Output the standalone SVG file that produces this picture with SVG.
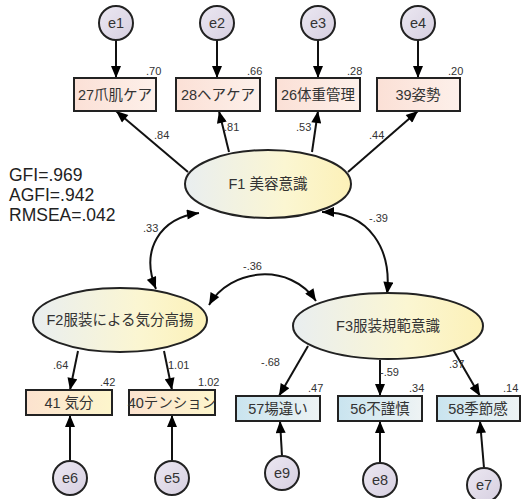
<svg xmlns="http://www.w3.org/2000/svg" width="521" height="499" viewBox="0 0 521 499">
<defs>
<linearGradient id="gE" x1="0" y1="0" x2="1" y2="1"><stop offset="0" stop-color="#ece8f2"/><stop offset="1" stop-color="#d6cfe0"/></linearGradient>
<linearGradient id="gTop" x1="0" y1="0" x2="1" y2="0"><stop offset="0" stop-color="#fbe0d6"/><stop offset="1" stop-color="#fdf0ea"/></linearGradient>
<linearGradient id="gYel" x1="0" y1="0" x2="1" y2="0"><stop offset="0" stop-color="#fce2cf"/><stop offset="1" stop-color="#fdf6cc"/></linearGradient>
<linearGradient id="gBlu" x1="0" y1="0" x2="1" y2="0"><stop offset="0" stop-color="#c9e4ef"/><stop offset="1" stop-color="#eef3f4"/></linearGradient>
<linearGradient id="gF" x1="0" y1="0" x2="1" y2="0"><stop offset="0" stop-color="#e9eef0"/><stop offset="0.6" stop-color="#fbf6d2"/><stop offset="1" stop-color="#fcf1b8"/></linearGradient>
<marker id="ah" viewBox="0 0 12 10" refX="12" refY="5" markerWidth="13" markerHeight="10" markerUnits="userSpaceOnUse" orient="auto-start-reverse"><path d="M0,0 L12,5 L0,10 Z" fill="#000"/></marker>
</defs>
<style>
.e{stroke:#222;stroke-width:2;fill:url(#gE)}
.b{stroke:#222;stroke-width:2}
.f{stroke:#222;stroke-width:2;fill:url(#gF)}
.t{font-family:"Liberation Sans","Noto Sans CJK JP",sans-serif;font-size:14.5px;fill:#333;text-anchor:middle;dominant-baseline:central}
.c{stroke:#111;stroke-width:2;fill:none;marker-end:url(#ah)}
.cv{stroke:#111;stroke-width:2;fill:none;marker-end:url(#ah);marker-start:url(#ah)}
.n{font-family:"Liberation Sans",sans-serif;font-size:11px;fill:#333}
.fit{font-family:"Liberation Sans",sans-serif;font-size:17.5px;fill:#222}
</style>
<rect width="521" height="499" fill="#fff"/>
<g id="connectors">
<line class="c" x1="116" y1="40" x2="116" y2="78"/>
<line class="c" x1="217" y1="40" x2="217" y2="78"/>
<line class="c" x1="318" y1="40" x2="318" y2="78"/>
<line class="c" x1="418" y1="40" x2="418" y2="78"/>
<line class="c" x1="188" y1="172" x2="116" y2="111"/>
<line class="c" x1="229" y1="152" x2="219" y2="111"/>
<line class="c" x1="312" y1="152" x2="318" y2="111"/>
<line class="c" x1="348" y1="172" x2="418" y2="111"/>
<path class="cv" d="M 156,289 C 140,250 160,218 199,213"/>
<path class="cv" d="M 387,294 C 392,250 370,212 322,212"/>
<path class="cv" d="M 209,305 C 230,268 290,262 316,301"/>
<line class="c" x1="78" y1="351" x2="70" y2="390"/>
<line class="c" x1="164" y1="351" x2="172" y2="390"/>
<line class="c" x1="308" y1="346" x2="279" y2="396"/>
<line class="c" x1="380" y1="360" x2="380" y2="396"/>
<line class="c" x1="451" y1="346" x2="480" y2="396"/>
<line class="c" x1="70" y1="461" x2="70" y2="415"/>
<line class="c" x1="172" y1="461" x2="172" y2="415"/>
<line class="c" x1="282" y1="456" x2="280" y2="421"/>
<line class="c" x1="380" y1="463" x2="380" y2="421"/>
<line class="c" x1="484" y1="468" x2="480" y2="421"/>
</g>
<g id="e1"><circle class="e" cx="116" cy="23" r="17"/><text class="t" x="116" y="23">e1</text></g>
<g id="e2"><circle class="e" cx="217" cy="23" r="17"/><text class="t" x="217" y="23">e2</text></g>
<g id="e3"><circle class="e" cx="318" cy="23" r="17"/><text class="t" x="318" y="23">e3</text></g>
<g id="e4"><circle class="e" cx="418" cy="23" r="17"/><text class="t" x="418" y="23">e4</text></g>
<g id="v27"><rect class="b" x="74" y="78" width="82" height="33" fill="url(#gTop)"/><text class="t" x="115" y="95">27爪肌ケア</text><text class="n" x="146" y="75">.70</text></g>
<g id="v28"><rect class="b" x="176" y="78" width="84" height="33" fill="url(#gTop)"/><text class="t" x="218" y="95">28ヘアケア</text><text class="n" x="247" y="75">.66</text></g>
<g id="v26"><rect class="b" x="276" y="78" width="84" height="33" fill="url(#gTop)"/><text class="t" x="318" y="95">26体重管理</text><text class="n" x="347" y="75">.28</text></g>
<g id="v39"><rect class="b" x="377" y="78" width="83" height="33" fill="url(#gTop)"/><text class="t" x="418" y="95">39姿勢</text><text class="n" x="448" y="75">.20</text></g>
<g id="F1"><ellipse class="f" cx="268" cy="184" rx="83" ry="34"/><text class="t" x="268" y="184">F1 美容意識</text></g>
<g id="fit"><text class="fit" x="9" y="181">GFI=.969</text><text class="fit" x="9" y="201">AGFI=.942</text><text class="fit" x="9" y="221">RMSEA=.042</text></g>
<g id="labels">
<text class="n" x="154" y="139">.84</text>
<text class="n" x="224" y="131">.81</text>
<text class="n" x="296" y="131">.53</text>
<text class="n" x="369" y="139">.44</text>
<text class="n" x="143" y="232">.33</text>
<text class="n" x="369" y="222">-.39</text>
<text class="n" x="243" y="270">-.36</text>
<text class="n" x="53" y="369">.64</text>
<text class="n" x="168" y="369">1.01</text>
<text class="n" x="261" y="366">-.68</text>
<text class="n" x="380" y="376">-.59</text>
<text class="n" x="449" y="368">.37</text>
</g>
<g id="F2"><ellipse class="f" cx="120" cy="320" rx="87" ry="32"/><text class="t" x="120" y="320">F2服装による気分高揚</text></g>
<g id="F3"><ellipse class="f" cx="388" cy="326" rx="95" ry="33"/><text class="t" x="388" y="326">F3服装規範意識</text></g>
<g id="v41"><rect class="b" x="26" y="390" width="86" height="25" fill="url(#gYel)"/><text class="t" x="69" y="403">41 気分</text><text class="n" x="100" y="386">.42</text></g>
<g id="v40"><rect class="b" x="129" y="390" width="86" height="25" fill="url(#gYel)"/><text class="t" x="172" y="403">40テンション</text><text class="n" x="198" y="386">1.02</text></g>
<g id="v57"><rect class="b" x="236" y="396" width="84" height="25" fill="url(#gBlu)"/><text class="t" x="278" y="409">57場違い</text><text class="n" x="308" y="392">.47</text></g>
<g id="v56"><rect class="b" x="338" y="396" width="84" height="25" fill="url(#gBlu)"/><text class="t" x="380" y="409">56不謹慎</text><text class="n" x="409" y="392">.34</text></g>
<g id="v58"><rect class="b" x="437" y="396" width="83" height="25" fill="url(#gBlu)"/><text class="t" x="478" y="409">58季節感</text><text class="n" x="503" y="392">.14</text></g>
<g id="e6"><circle class="e" cx="70" cy="478" r="17"/><text class="t" x="70" y="478">e6</text></g>
<g id="e5"><circle class="e" cx="172" cy="478" r="17"/><text class="t" x="172" y="478">e5</text></g>
<g id="e9"><circle class="e" cx="282" cy="473" r="17"/><text class="t" x="282" y="473">e9</text></g>
<g id="e8"><circle class="e" cx="380" cy="480" r="17"/><text class="t" x="380" y="480">e8</text></g>
<g id="e7"><circle class="e" cx="484" cy="485" r="17"/><text class="t" x="484" y="485">e7</text></g>
</svg>
